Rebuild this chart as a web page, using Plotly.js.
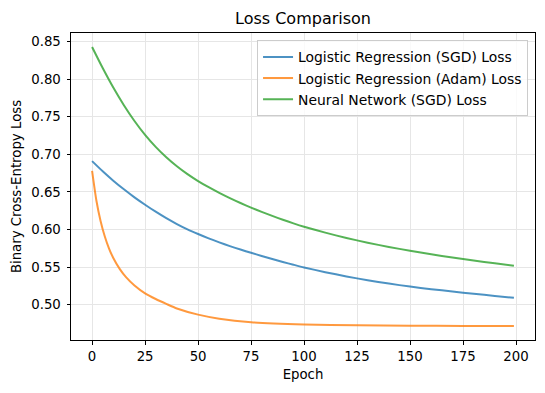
<!DOCTYPE html>
<html>
<head>
<meta charset="utf-8">
<script src="https://cdn.plot.ly/plotly-3.0.1.min.js"></script>
<style>html,body{margin:0;padding:0;background:#fff;}#chart{width:545px;height:393px;}</style>
</head>
<body>
<div id="chart"></div>
<script>
// Series names
const seriesNames = [
  "Logistic Regression (SGD) Loss",
  "Logistic Regression (Adam) Loss",
  "Neural Network (SGD) Loss"
];
// Logistic Regression (SGD)
const epochsLRSGD = [0, 5, 10, 15, 20, 25, 30, 35, 40, 45, 50, 55, 60, 65, 70, 75, 80, 85, 90, 95, 100, 110, 120, 130, 140, 150, 160, 170, 180, 190, 199];
const lossLRSGD   = [0.691, 0.6775, 0.665, 0.6535, 0.6428, 0.633, 0.6237, 0.6151, 0.6073, 0.6002, 0.594, 0.5882, 0.5829, 0.5779, 0.5733, 0.569, 0.5648, 0.5607, 0.5568, 0.5531, 0.5495, 0.5432, 0.5375, 0.5325, 0.528, 0.524, 0.5206, 0.5174, 0.5144, 0.5116, 0.509];
// Logistic Regression (Adam)
const epochsLRAdam = [0, 2, 4, 6, 8, 10, 13, 16, 20, 25, 30, 35, 40, 50, 60, 75, 100, 125, 150, 175, 199];
const lossLRAdam   = [0.678, 0.639, 0.6114, 0.5907, 0.5747, 0.5621, 0.5476, 0.5366, 0.5255, 0.515, 0.5075, 0.501, 0.4949, 0.4867, 0.4813, 0.4766, 0.4737, 0.4725, 0.4719, 0.4716, 0.4715];
// Neural Network (SGD)
const epochsNN = [0, 5, 10, 15, 20, 25, 30, 35, 40, 45, 50, 55, 60, 65, 70, 75, 80, 85, 90, 95, 100, 110, 120, 130, 140, 150, 160, 170, 180, 190, 199];
const lossNN   = [0.843, 0.815, 0.789, 0.7655, 0.7445, 0.726, 0.71, 0.6962, 0.6842, 0.6737, 0.6645, 0.6563, 0.6488, 0.6418, 0.6353, 0.6292, 0.6235, 0.6181, 0.613, 0.6082, 0.6037, 0.5958, 0.5887, 0.5824, 0.5768, 0.5717, 0.567, 0.5627, 0.5587, 0.555, 0.5518];
// Tick values
const xTicks = [0, 25, 50, 75, 100, 125, 150, 175, 200];
const yTicks = [0.50, 0.55, 0.60, 0.65, 0.70, 0.75, 0.80, 0.85];

const colors = ["rgba(31,119,180,0.8)", "rgba(255,127,14,0.8)", "rgba(44,160,44,0.8)"];
const xs = [epochsLRSGD, epochsLRAdam, epochsNN];
const ys = [lossLRSGD, lossLRAdam, lossNN];

const traces = seriesNames.map((n, i) => ({
  type: "scatter", mode: "lines", name: n,
  x: xs[i], y: ys[i],
  line: {color: colors[i], width: 2, shape: "spline", smoothing: 0.6}
}));

const fam = "DejaVu Sans, sans-serif";
const tickFont = {family: fam, size: 13.3, color: "#000"};
const axisCommon = {
  showline: true, mirror: true, linecolor: "#000", linewidth: 1,
  ticks: "outside", ticklen: 3.5, tickwidth: 1, tickcolor: "#000",
  showgrid: true, gridcolor: "#e6e6e6", gridwidth: 1, zeroline: false,
  tickfont: tickFont
};

const layout = {
  width: 545, height: 393,
  margin: {l: 70.5, r: 9.7, t: 32.5, b: 53},
  paper_bgcolor: "#fff", plot_bgcolor: "#fff",
  font: tickFont,
  title: {text: "Loss Comparison", font: {family: fam, size: 16, color: "#000"},
          x: 0.5, xref: "paper", y: 1 - 18/393, yref: "container", yanchor: "middle"},
  xaxis: Object.assign({}, axisCommon, {
    range: [-9.95, 208.95], tickvals: xTicks, ticktext: xTicks.map(String),
    ticklabelstandoff: 1,
    title: {text: "Epoch", font: tickFont, standoff: 6}
  }),
  yaxis: Object.assign({}, axisCommon, {
    range: [0.4529, 0.8616], tickvals: yTicks, ticktext: yTicks.map(v => v.toFixed(2)),
    ticklabelstandoff: 3,
    title: {text: "Binary Cross-Entropy Loss", font: tickFont, standoff: 6}
  }),
  showlegend: true,
  legend: {
    x: 0.985, xanchor: "right", y: 0.9756, yanchor: "top",
    bgcolor: "rgba(255,255,255,0.8)", bordercolor: "#cccccc", borderwidth: 1,
    font: {family: fam, size: 13.9, color: "#000"}, tracegroupgap: 0
  }
};

Plotly.newPlot("chart", traces, layout, {staticPlot: true, displayModeBar: false});
</script>
</body>
</html>
